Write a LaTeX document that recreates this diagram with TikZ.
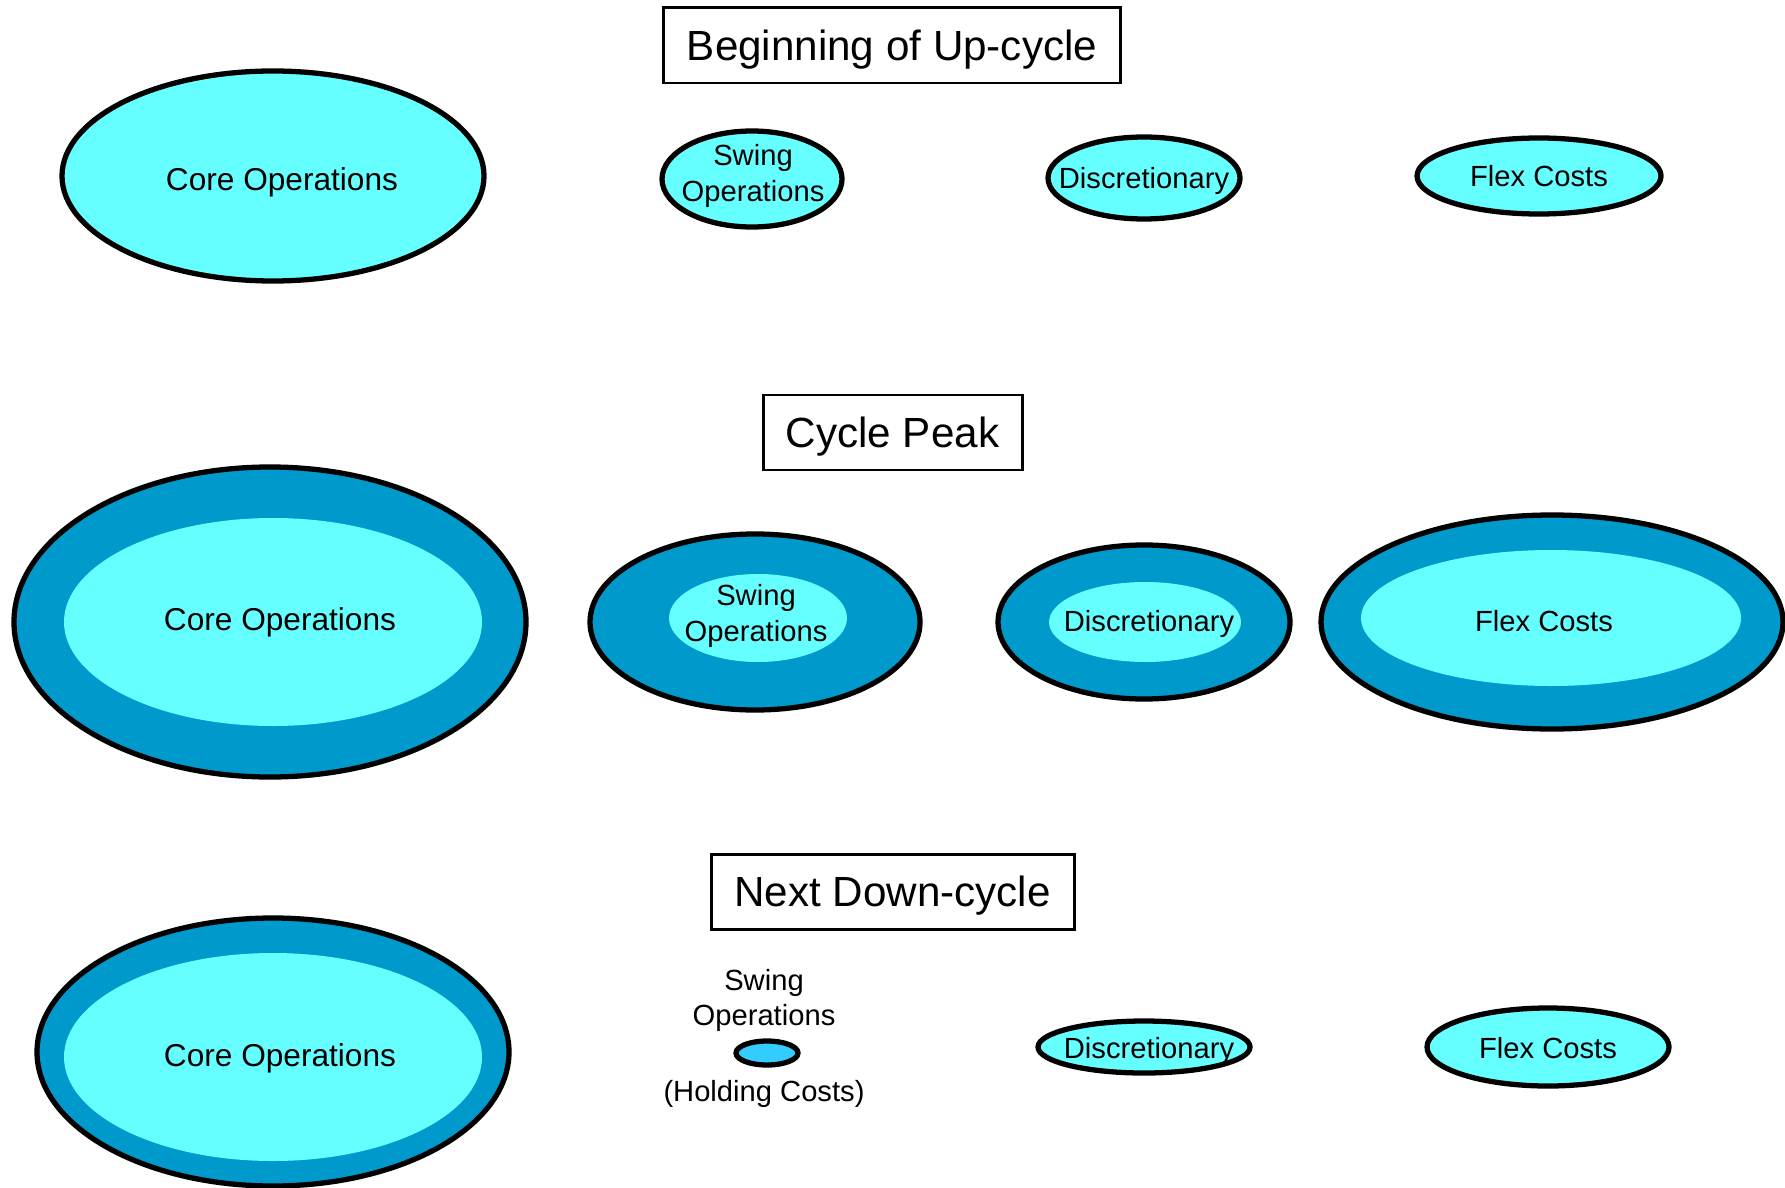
\documentclass[tikz,border=0pt]{standalone}
\usepackage{fontspec}
\setmainfont{Liberation Sans}
\usepackage{tikz,xcolor}
\usetikzlibrary{shapes.geometric}
\definecolor{lightcyan}{HTML}{66FFFF}
\definecolor{peakblue}{HTML}{0099CC}
\definecolor{holdblue}{HTML}{33CCFF}

\begin{document}
\begin{tikzpicture}[
  bubble/.style={ellipse, draw=black, line width=1.5pt, fill=lightcyan, inner sep=0pt},
  ring/.style={ellipse, draw=black, line width=1.5pt, fill=peakblue, inner sep=0pt},
  core/.style={ellipse, fill=lightcyan, inner sep=0pt},
  txt/.style={align=center, text depth=0pt, font=\fontsize{8.3}{10}\selectfont},
  coretxt/.style={text depth=0pt, font=\fontsize{9}{10.5}\selectfont},
  phase/.style={draw=black, line width=0.85pt, fill=white, text depth=0pt, font=\fontsize{12}{14}\selectfont}
]
  \useasboundingbox (0,0) rectangle (17.85,-11.87);
  % Beginning of the up-cycle
  \node[phase, minimum width=4.57cm, minimum height=0.75cm] (upcycle) at (8.92,-0.455) {Beginning of Up-cycle};
  \node[bubble, minimum width=4.22cm, minimum height=2.10cm] (core1) at (2.73,-1.76) {};
  \node[coretxt] at (2.82,-1.79) {Core Operations};
  \node[bubble, minimum width=1.80cm, minimum height=0.96cm] (swing1) at (7.52,-1.79) {};
  \node[txt] at (7.53,-1.73) {Swing\\Operations};
  \node[bubble, minimum width=1.92cm, minimum height=0.82cm] (disc1) at (11.44,-1.78) {};
  \node[txt] at (disc1) {Discretionary};
  \node[bubble, minimum width=2.44cm, minimum height=0.76cm] (flex1) at (15.39,-1.76) {};
  \node[txt] at (flex1) {Flex Costs};

  % Peak of the cycle
  \node[phase, minimum width=2.59cm, minimum height=0.75cm] (peak) at (8.925,-4.325) {Cycle Peak};
  \node[ring, minimum width=5.12cm, minimum height=3.10cm] (core2out) at (2.70,-6.22) {};
  \node[core, minimum width=4.18cm, minimum height=2.08cm] (core2) at (2.73,-6.22) {};
  \node[coretxt] at (2.80,-6.19) {Core Operations};
  \node[ring, minimum width=3.30cm, minimum height=1.76cm] (swing2out) at (7.55,-6.22) {};
  \node[core, minimum width=1.78cm, minimum height=0.88cm] (swing2) at (7.58,-6.18) {};
  \node[txt] at (7.56,-6.13) {Swing\\Operations};
  \node[ring, minimum width=2.92cm, minimum height=1.54cm] (disc2out) at (11.44,-6.22) {};
  \node[core, minimum width=1.92cm, minimum height=0.80cm] (disc2) at (11.45,-6.22) {};
  \node[txt] at (11.49,-6.21) {Discretionary};
  \node[ring, minimum width=4.62cm, minimum height=2.14cm] (flex2out) at (15.52,-6.22) {};
  \node[core, minimum width=3.80cm, minimum height=1.36cm] (flex2) at (15.51,-6.18) {};
  \node[txt] at (15.44,-6.21) {Flex Costs};

  % Next down-cycle
  \node[phase, minimum width=3.63cm, minimum height=0.75cm] (downcycle) at (8.925,-8.915) {Next Down-cycle};
  \node[ring, minimum width=4.72cm, minimum height=2.68cm] (core3out) at (2.73,-10.52) {};
  \node[core, minimum width=4.18cm, minimum height=2.08cm] (core3) at (2.73,-10.57) {};
  \node[coretxt] at (2.80,-10.55) {Core Operations};
  \node[ellipse, draw=black, line width=1.5pt, fill=holdblue, inner sep=0pt,
        minimum width=0.62cm, minimum height=0.24cm] (swing3) at (7.67,-10.53) {};
  \node[txt] (swing3name) at (7.64,-9.97) {Swing\\Operations};
  \node[txt] (swing3hold) at (7.64,-10.91) {(Holding Costs)};
  \node[bubble, minimum width=2.12cm, minimum height=0.52cm] (disc3) at (11.44,-10.47) {};
  \node[txt] at (11.49,-10.48) {Discretionary};
  \node[bubble, minimum width=2.42cm, minimum height=0.78cm] (flex3) at (15.48,-10.47) {};
  \node[txt] at (15.48,-10.48) {Flex Costs};
\end{tikzpicture}
\end{document}
